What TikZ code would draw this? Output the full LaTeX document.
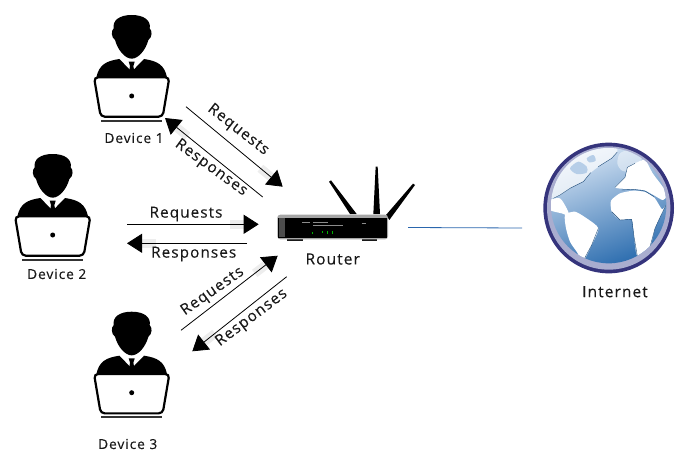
\documentclass[tikz,border=0pt]{standalone}
\usepackage{fontspec}
\setmainfont[LetterSpace=7,FakeBold=0.25]{Open Sans}
\usetikzlibrary{arrows.meta, calc}
\definecolor{globeRing}{HTML}{35347C}
\definecolor{globeRim}{HTML}{A9ADCF}
\definecolor{oceanTop}{HTML}{D3E2F3}
\definecolor{oceanMid}{HTML}{9DBDE0}
\definecolor{oceanLow}{HTML}{2F6FB0}
\definecolor{linkBlue}{HTML}{2A66AD}

\begin{document}
\begin{tikzpicture}[x=1pt,y=-1pt,>={Triangle[length=15pt,width=19pt]}]
      % Styles
      \tikzset{
        label/.style={font=\fontsize{13.7}{15}\selectfont, inner sep=0pt, text=black!90},
        linkLabel/.style={font=\fontsize{15.3}{17}\selectfont, inner sep=0pt, text=black!90},
        bigLabel/.style={font=\fontsize{15.5}{17}\selectfont, inner sep=0pt, text=black!90},
        link/.style={->, line width=.8pt, black},
        fadebar/.style={line width=9pt, black!7},
        land/.style={fill=white},
        coast/.style={draw=oceanLow!70!black, line width=.4pt},
        pics/person/.style={code={
          % Head
          \fill (0,45) .. controls (-38,45) and (-58,62) .. (-54,85)
            .. controls (-62,92) and (-62,112) .. (-50,120)
            .. controls (-42,150) and (-20,176) .. (0,176)
            .. controls (20,176) and (42,150) .. (50,120)
            .. controls (62,112) and (62,92) .. (54,85)
            .. controls (58,62) and (38,45) .. (0,45) -- cycle;
          % Shoulders
          \fill (-106,232) .. controls (-98,195) and (-78,183) .. (-37,177)
            -- (0,215) -- (37,177)
            .. controls (78,183) and (98,195) .. (106,232) -- cycle;
          % Tie
          \fill (-9,185) -- (9,185) -- (5,198) -- (9,222) -- (-9,222) -- (-5,198) -- cycle;
          % Laptop
          \draw[line width=2.2pt, fill=white, rounded corners=4pt]
            (-113,232) -- (113,232) -- (93,350) -- (-93,350) -- cycle;
          \fill (0,288) circle (7.5);
          \draw[line width=2.2pt, black!80] (-92,362) -- (92,362);
        }},
      }
      \useasboundingbox (0,0) rectangle (685,463);
      % Devices
      \pic[scale=1/3] (person1) at (131.7,0) {person};
      \pic[scale=1/3] (person2) at (52.7,139) {person};
      \pic[scale=1/3] (person3) at (131.7,296.7) {person};
      \node (device1) [label] at (134,138) {Device 1};
      \node (device2) [label] at (56.7,274) {Device 2};
      \node (device3) [label] at (127.7,444) {Device 3};
      % Router
      \begin{scope}[shift={(260,150)}, scale=1/3]
        \fill (207,95) -- (213,91) -- (290,192) -- (270,192) -- cycle;
        \fill (347,50) -- (353,50) -- (360,192) -- (340,192) -- cycle;
        \fill (459,101) -- (465,105) -- (388,210) -- (378,195) -- cycle;
        \fill[black!90] (80,266) rectangle (130,274);
        \fill[black!90] (305,266) rectangle (350,274);
        \fill[black!35, rounded corners=3pt] (52,194) rectangle (384,268);
        \fill[black] (54,204) rectangle (380,264);
        \fill[black!70] (58,204) rectangle (76,262);
        \draw[black!45, line width=.4pt] (127,218) -- (150,218) (160,218) -- (205,218) (160,225) -- (248,225) (305,220) -- (318,220);
        \foreach \ledx/\ledy in {158/249, 188/246, 202/248, 217/248}
          \fill[green!70!black] (\ledx-1.5,\ledy-4) rectangle (\ledx+1.5,\ledy+4);
      \end{scope}
      \node (router) [bigLabel] at (332.7,259) {Router};
      % Globe
      \begin{scope}[shift={(530,130)}, scale=1/3]
        \fill[globeRing] (236,234) circle (196);
        \fill[globeRim] (236,234) circle (185);
        \shade[top color=oceanTop, middle color=oceanMid, bottom color=oceanLow, shading angle=20] (236,227) circle (173);
        \begin{scope}
          \clip (236,227) circle (173);
          % North America, with its bays
          \fill[land, opacity=.7] (60,205) -- (70,205) -- (90,195) -- (120,175) -- (160,155) -- (182,128) -- (205,110) -- (245,85) -- (262,66) -- (262,30) -- (40,30) -- cycle;
          \fill[oceanMid!75!white] plot[smooth cycle, tension=.5] coordinates {(120,115) (145,95) (170,110) (170,128) (140,132)};
          \fill[oceanMid!75!white] plot[smooth cycle, tension=.5] coordinates {(170,85) (190,75) (197,92) (178,97)};
          \fill[land] plot[smooth cycle, tension=.4] coordinates {(60,210) (90,205) (110,235) (118,258) (95,250) (60,240)};
          % Greenland
          \fill[land, opacity=.45] plot[smooth cycle, tension=.5] coordinates {(272,68) (320,58) (335,88) (300,122) (276,122) (262,100)};
          % South America
          \fill[land] plot[smooth cycle, tension=.4] coordinates {(105,255) (135,245) (170,265) (205,295) (185,345) (160,392) (140,365) (120,335) (108,295)};
          % Africa
          \fill[land] plot[smooth cycle, tension=.35] coordinates {(243,212) (270,190) (310,182) (345,186) (374,204) (396,238) (408,225) (392,258) (375,295) (360,350) (322,378) (312,320) (305,268) (270,270) (245,245)};
          % Europe
          \fill[land] plot[smooth cycle, tension=.4] coordinates {(255,172) (285,142) (292,112) (315,100) (345,90) (368,130) (398,170) (412,195) (398,210) (372,196) (340,180) (290,177)};
          \draw[coast] (70,205) -- (90,195) -- (120,175) -- (160,155) -- (182,128);
          \draw[coast] (205,110) -- (245,85) -- (262,66);
          \draw[coast] (255,172) -- (285,142) -- (292,112) -- (315,100);
          \draw[coast] (275,180) -- (310,178) -- (345,183) -- (372,200);
          \draw[coast] (245,245) -- (270,270) -- (305,268) -- (312,320) -- (322,378);
          \draw[coast] (205,295) -- (185,345) -- (160,392);
          \draw[coast] (408,225) -- (392,258) -- (375,295) -- (360,350);
        \end{scope}
      \end{scope}
      \node (internet) [bigLabel] at (615,291.7) {Internet};
      % Link ends
      \coordinate (req1a) at (186,106.7);
      \coordinate (req1b) at (282.7,186.7);
      \coordinate (res1a) at (262.7,197);
      \coordinate (res1b) at (165,118);
      \coordinate (req2a) at (127,224.3);
      \coordinate (req2b) at (258.7,224.3);
      \coordinate (res2a) at (247,243.3);
      \coordinate (res2b) at (127,243.3);
      \coordinate (req3a) at (181,330.3);
      \coordinate (req3b) at (277.7,255.7);
      \coordinate (res3a) at (286.7,276.7);
      \coordinate (res3b) at (192.3,351.3);
      \coordinate (routerport) at (408,227.5);
      \coordinate (globeport) at (522,228);
      % Arrows
      \foreach \tail/\tip in {req1a/req1b, res1a/res1b, req2a/req2b, res2a/res2b, req3a/req3b, res3a/res3b} {
        \draw[fadebar] ($(\tip)!12pt!(\tail)$) -- ($(\tip)!29pt!(\tail)$);
        \draw[link] (\tail) -- (\tip);
      }
      \draw[linkBlue, line width=.8pt] (routerport) -- (globeport);
      % Arrow labels
      \node (req1) [linkLabel, rotate=-38] at (238,130) {Requests};
      \node (res1) [linkLabel, rotate=-36] at (211,168) {Responses};
      \node (req2) [linkLabel] at (186,214) {Requests};
      \node (res2) [linkLabel] at (193.7,254) {Responses};
      \node (req3) [linkLabel, rotate=35] at (212.7,291.7) {Requests};
      \node (res3) [linkLabel, rotate=37] at (251.7,318) {Responses};
    \end{tikzpicture}
\end{document}
